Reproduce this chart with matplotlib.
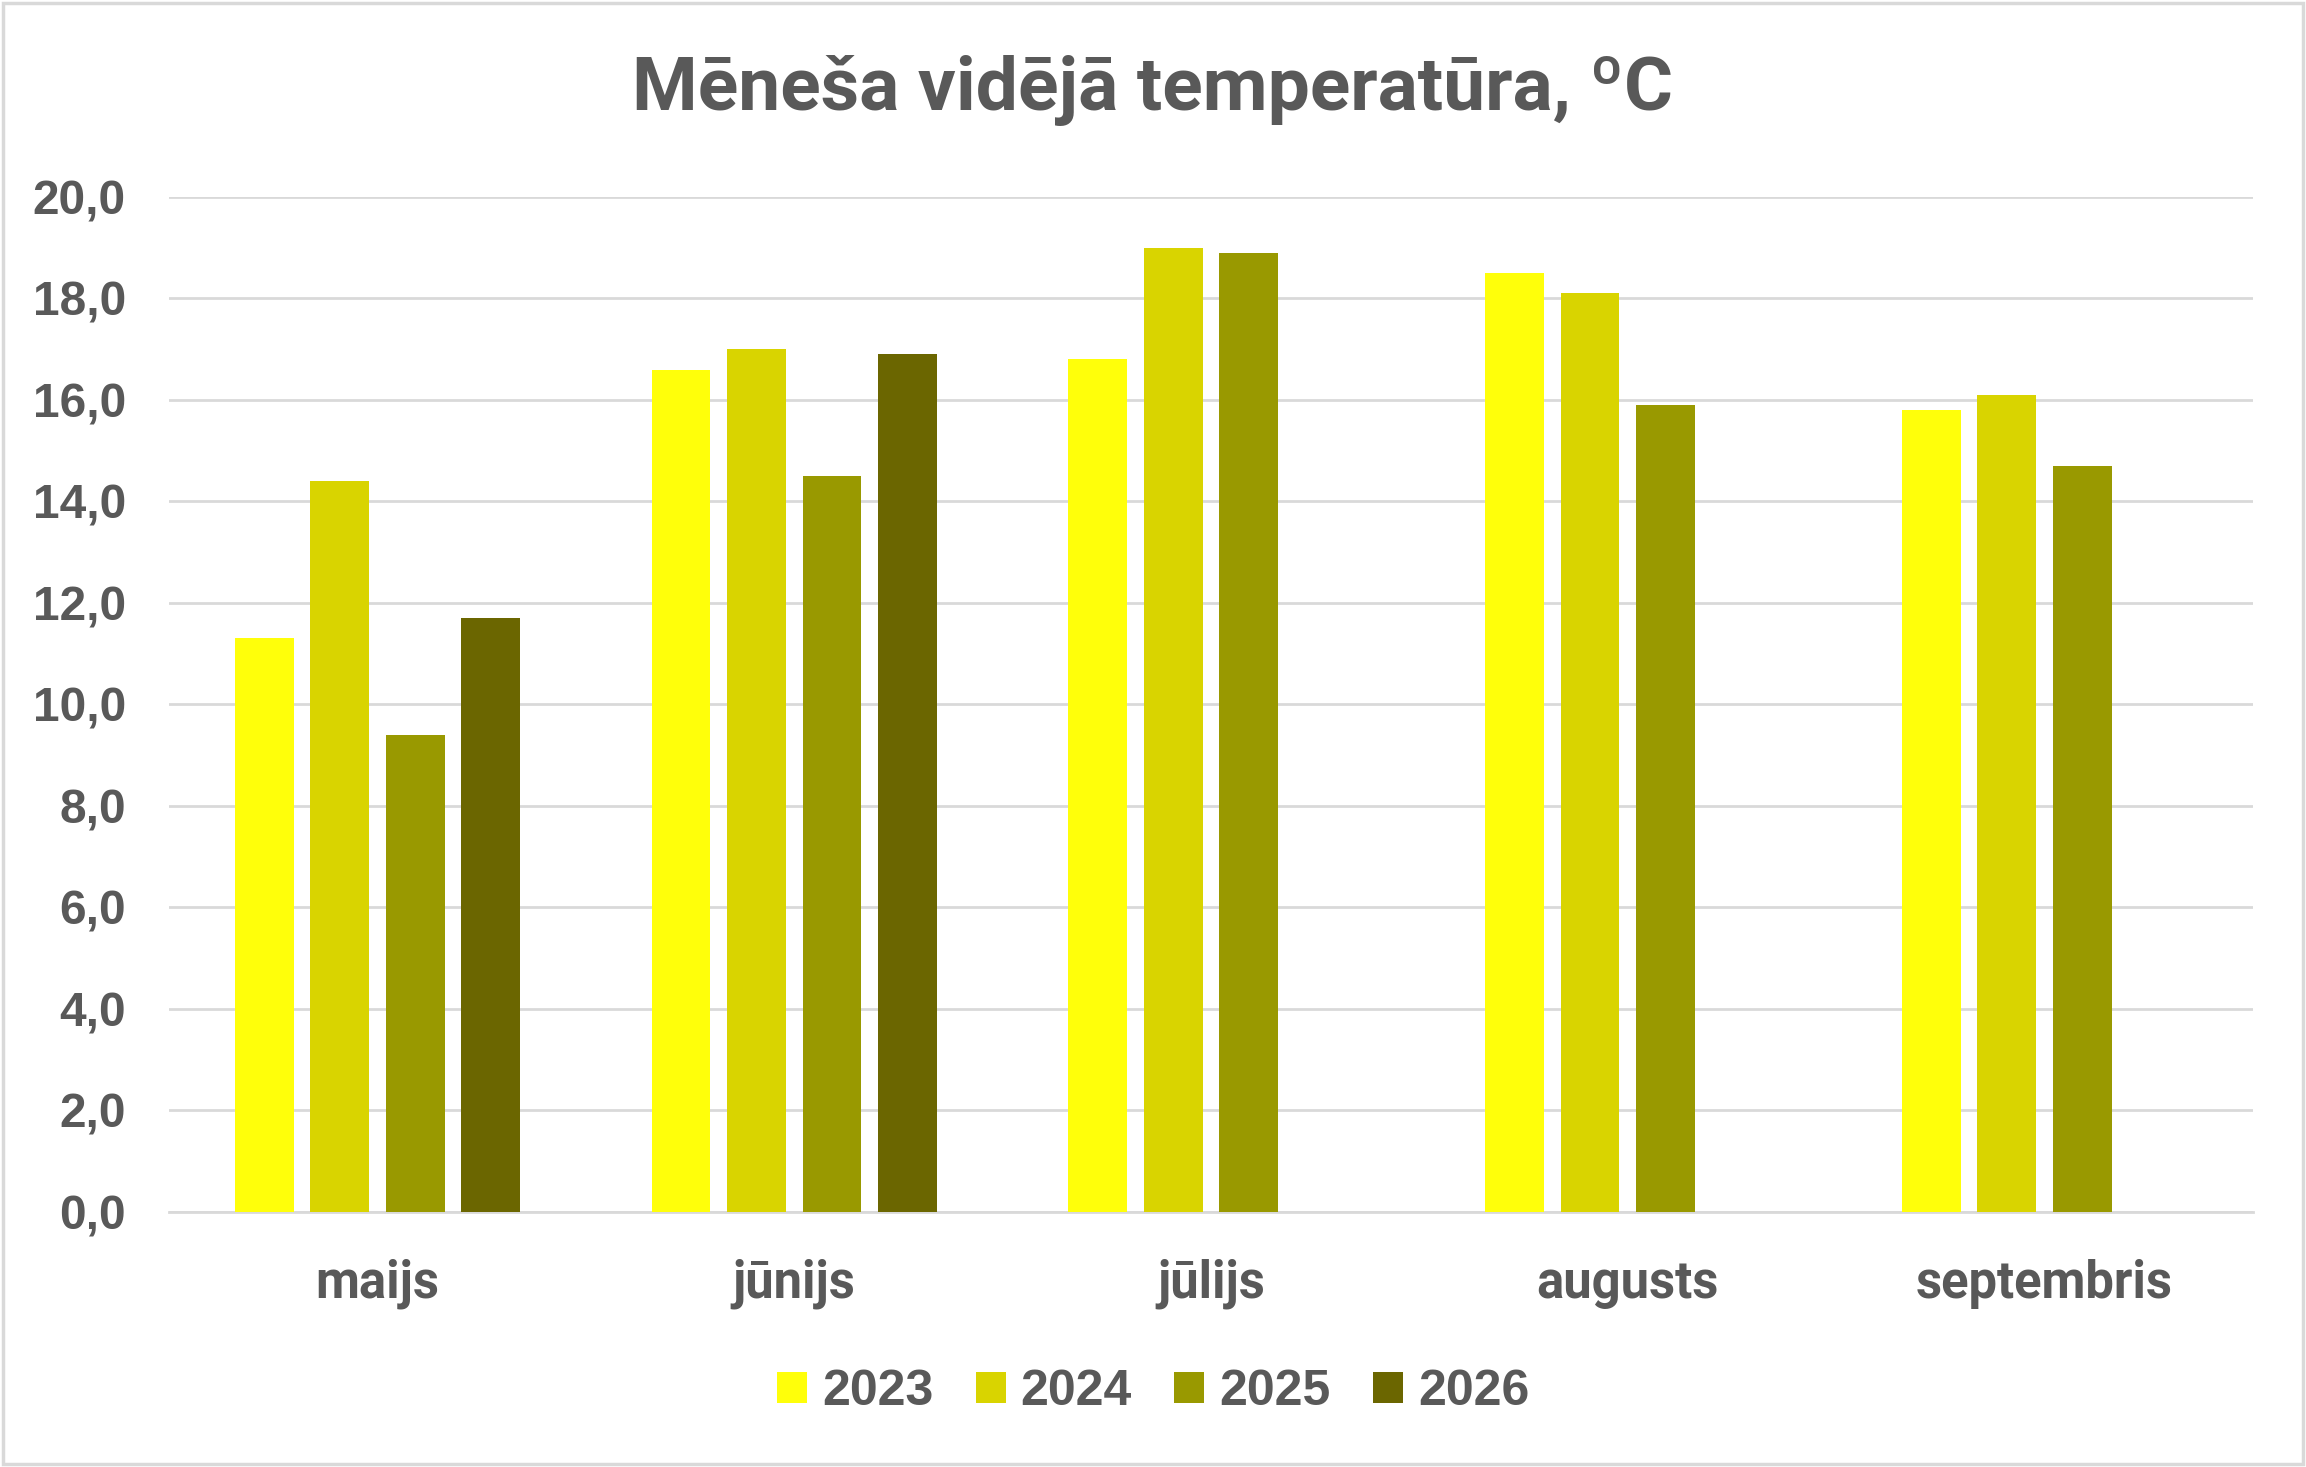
import matplotlib
matplotlib.use("Agg")
import matplotlib.pyplot as plt
import numpy as np
from matplotlib.patches import Rectangle

months = ["maijs", "jūnijs", "jūlijs", "augusts", "septembris"]
years = ["2023", "2024", "2025", "2026"]
v2023 = [11.3, 16.6, 16.8, 18.5, 15.8]
v2024 = [14.4, 17.0, 19.0, 18.1, 16.1]
v2025 = [9.4, 14.5, 18.9, 15.9, 14.7]
v2026 = [11.7, 16.9, np.nan, np.nan, np.nan]
yticks = [0, 2, 4, 6, 8, 10, 12, 14, 16, 18, 20]
ytick_labels = ["0,0", "2,0", "4,0", "6,0", "8,0", "10,0", "12,0", "14,0", "16,0", "18,0", "20,0"]
title = "Mēneša vidējā temperatūra, ºC"

colors = ["#FFFF0A", "#D9D400", "#999900", "#6B6600"]
text_c = "#595959"
grid_c = "#D9D9D9"

fig = plt.figure(figsize=(23.06, 14.67), dpi=100)
ax = fig.add_axes([0.0733, 0.174, 0.9037, 0.6917])

series = [v2023, v2024, v2025, v2026]
x = np.arange(len(months))
step = 0.181
width = 0.141
for i, (vals, col, yr) in enumerate(zip(series, colors, years)):
    ax.bar(x + (i - 1.5) * step, vals, width=width, color=col, label=yr, zorder=3)

ax.set_xlim(-0.5, len(months) - 0.5)
ax.set_ylim(0, 20)
ax.set_yticks(yticks)
ax.set_yticklabels(ytick_labels, fontsize=34.5, fontweight="bold", color=text_c,
                   family=["Liberation Sans", "DejaVu Sans"])
ax.set_xticks(x)
ax.set_xticklabels(months, fontsize=36.5, fontweight="bold", color=text_c,
                   family=["Roboto", "DejaVu Sans"])
ax.tick_params(axis="y", length=0, pad=31)
ax.tick_params(axis="x", length=0, pad=34)
ax.grid(axis="y", color=grid_c, linewidth=2, zorder=0)
for s in ["top", "right", "left"]:
    ax.spines[s].set_visible(False)
ax.spines["bottom"].set_color(grid_c)
ax.spines["bottom"].set_linewidth(2)

fig.text(0.5, 0.938, title, ha="center", va="center", fontsize=54, fontweight="bold",
         color=text_c, family=["Roboto", "DejaVu Sans"])

leg = fig.legend(loc="center", bbox_to_anchor=(0.5, 0.051), ncol=4, frameon=False,
                 prop={"family": ["Liberation Sans", "DejaVu Sans"], "weight": "bold", "size": 36},
                 handlelength=0.6, handleheight=0.6, handletextpad=0.3, columnspacing=0.85)
for t in leg.get_texts():
    t.set_color(text_c)

fig.patches.append(Rectangle((0.0015, 0.002), 0.997, 0.996, transform=fig.transFigure,
                             fill=False, edgecolor=grid_c, linewidth=2.5))

fig.savefig("out.png", dpi=100, facecolor="white")
